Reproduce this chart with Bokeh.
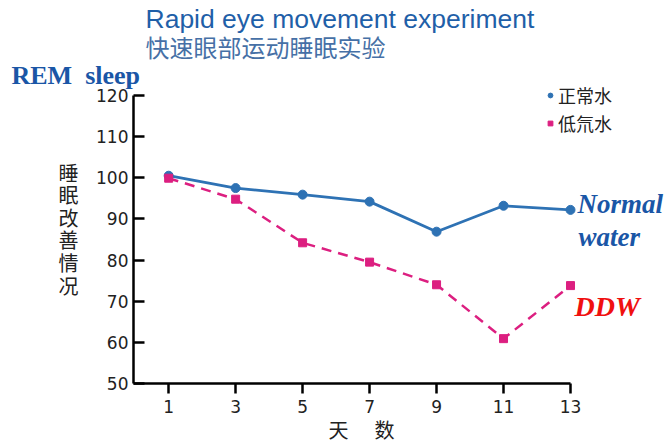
from bokeh.plotting import figure
from bokeh.models import Range1d, Label, Legend, LegendItem, FixedTicker, LinearAxis
from bokeh.embed import file_html
from bokeh.resources import INLINE

days = [1, 3, 5, 7, 9, 11, 13]
normal_water = [100.5, 97.5, 95.9, 94.2, 86.9, 93.2, 92.2]
ddw = [99.9, 94.8, 84.2, 79.5, 74.0, 60.9, 73.8]
y_ticks = [50, 60, 70, 80, 90, 100, 110, 120]

BLUE = "#2e72b4"
PINK = "#dc1f80"

W, H = 664, 445
# axis extents (data) and their canvas pixel positions
AX0, AX1 = -0.05, 13
AY0, AY1 = 50, 120
PL, PR = 133, 570      # canvas x of AX0, AX1
PB, PT = 383, 95       # canvas y of AY0, AY1
SX = (PR - PL) / (AX1 - AX0)
SY = (PB - PT) / (AY1 - AY0)
x_range = Range1d(AX0 - PL / SX, AX0 + (W - PL) / SX)
y_range = Range1d(AY0 - (H - PB) / SY, AY0 + PB / SY)

p = figure(width=W, height=H, frame_width=W, frame_height=H,
           min_border=0, x_range=x_range, y_range=y_range,
           x_axis_type=None, y_axis_type=None,
           output_backend="svg", toolbar_location=None)
p.outline_line_color = None
p.grid.visible = False

def dx(px):  # canvas pixel -> data x
    return AX0 + (px - PL) / SX
def dy(py):
    return AY0 + (PB - py) / SY

xax = LinearAxis(ticker=FixedTicker(ticks=days), bounds=(AX0, AX1), fixed_location=AY0)
yax = LinearAxis(ticker=FixedTicker(ticks=y_ticks), bounds=(AY0, AY1), fixed_location=AX0)
for ax in (xax, yax):
    ax.axis_line_width = 2.5
    ax.major_tick_line_width = 2.5
    ax.minor_tick_line_color = None
    ax.major_label_text_font = "DejaVu Sans"
    ax.major_label_text_font_size = "17px"
    ax.major_label_text_color = "#222222"
xax.major_tick_in = 0
xax.major_tick_out = 10
xax.major_label_standoff = 6
yax.major_tick_in = 11
yax.major_tick_out = 0
yax.major_label_standoff = 5
p.add_layout(xax, "below")
p.add_layout(yax, "left")

p.line(days, normal_water, line_color=BLUE, line_width=2.8)
r_n = p.scatter(days, normal_water, marker="circle", size=9, fill_color=BLUE, line_color=BLUE)
p.line(days, ddw, line_color=PINK, line_width=2.5, line_dash="10 7")
r_d = p.scatter(days, ddw, marker="square", size=8, fill_color=PINK, line_color=PINK)

legend = Legend(items=[LegendItem(label="正常水", renderers=[r_n]),
                       LegendItem(label="低氘水", renderers=[r_d])],
                location=(544, H - 136), margin=0, padding=0, spacing=2,
                glyph_width=12, glyph_height=20, label_height=20, label_standoff=2,
                label_text_font="Noto Sans CJK SC", label_text_font_size="18px",
                label_text_color="#222222",
                border_line_color=None, background_fill_alpha=0)
p.add_layout(legend, "center")

def lab(px, py, text, size, color, font="Liberation Sans", style="normal", align="left", **kw):
    p.add_layout(Label(x=dx(px), y=dy(py), text=text, text_font=font,
                       text_font_size=size, text_color=color, text_font_style=style,
                       text_align=align, text_baseline="top", **kw))

lab(145, 3, "Rapid eye movement experiment", "26.5px", "#1f5fa8")
lab(145, 28, "快速眼部运动睡眠实验", "24px", "#4670a6", font="Noto Sans CJK SC")
lab(11, 60, "REM\u00a0\u00a0sleep", "26px", "#1a56a6", font="Liberation Serif", style="bold")
lab(577, 188, "Normal", "27px", "#1a56a6", font="Liberation Serif", style="bold italic")
lab(578, 221, "water", "27px", "#1a56a6", font="Liberation Serif", style="bold italic")
lab(574, 290, "DDW", "28px", "#f01010", font="Liberation Serif", style="bold italic")
lab(68, 157, "睡\n眠\n改\n善\n情\n况", "20px", "#222222", font="Noto Sans CJK SC",
    align="center", text_line_height=0.78)
lab(338, 414, "天", "20px", "#222222", font="Noto Sans CJK SC", align="center")
lab(384, 414, "数", "20px", "#222222", font="Noto Sans CJK SC", align="center")

open("out.html", "w").write(file_html(p, INLINE))
